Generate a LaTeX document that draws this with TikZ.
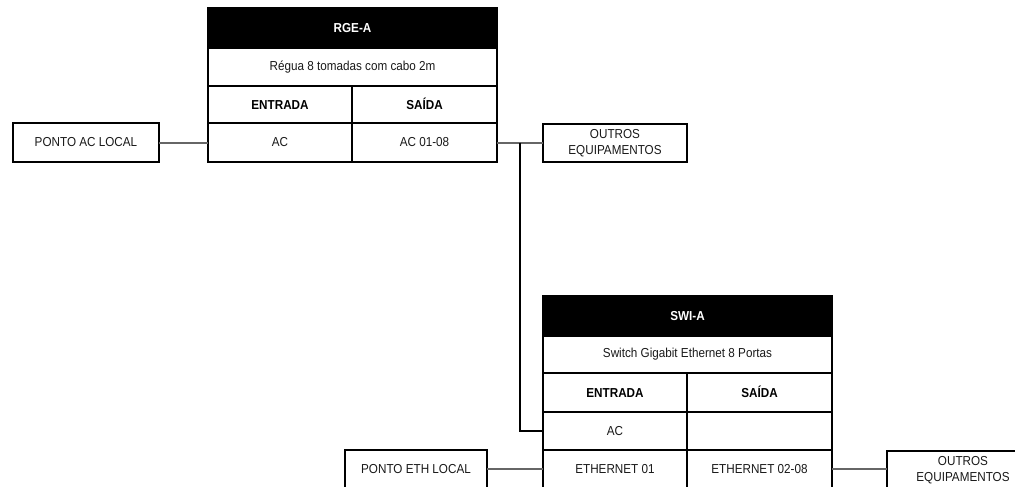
\documentclass[tikz,border=0pt]{standalone}
\usepackage{fontspec}
\setmainfont{Liberation Sans}[FakeStretch=0.9]
\usetikzlibrary{calc}
\tikzset{
  cell/.style={draw=black, line width=1.8pt, anchor=north west, inner sep=0pt, outer sep=0pt,
    align=center, font=\fontsize{13}{14}\selectfont, text=black!90},
  twoline/.style={cell, font=\fontsize{13}{16.5}\selectfont},
  headcell/.style={cell, fill=black, text=white, font=\fontsize{13}{14}\selectfont\bfseries},
  boldcell/.style={cell, font=\fontsize{13}{14}\selectfont\bfseries, text=black,
    text height=9.4pt, text depth=0pt},
  wire/.style={draw=black!60, line width=2pt},
  feed/.style={draw=black, line width=1.8pt},
}
\begin{document}
\begin{tikzpicture}[x=1pt,y=-1pt]
\path[use as bounding box, clip] (0,0) rectangle (1015,487);
% RGE-A
\node[headcell, minimum width=289pt, minimum height=40pt] (rhead) at (208,8) {RGE-A};
\node[cell, minimum width=289pt, minimum height=38pt] (rdesc) at (208,48) {Régua 8 tomadas com cabo 2m};
\node[boldcell, minimum width=144pt, minimum height=37pt] (rinh) at (208,86) {ENTRADA};
\node[boldcell, minimum width=145pt, minimum height=37pt] (routh) at (352,86) {SAÍDA};
\node[cell, minimum width=144pt, minimum height=39pt] (rin) at (208,123) {AC};
\node[cell, minimum width=145pt, minimum height=39pt] (rout) at (352,123) {AC 01-08};
\node[cell, minimum width=146pt, minimum height=39pt] (pac) at (13,123) {PONTO AC LOCAL};
\node[twoline, minimum width=144pt, minimum height=38pt] (o1) at (543,124) {OUTROS\\EQUIPAMENTOS};
% SWI-A
\node[headcell, minimum width=289pt, minimum height=40pt] (shead) at (543,296) {SWI-A};
\node[cell, minimum width=289pt, minimum height=37pt] (sdesc) at (543,336) {Switch Gigabit Ethernet 8 Portas};
\node[boldcell, minimum width=144pt, minimum height=39pt] (sinh) at (543,373) {ENTRADA};
\node[boldcell, minimum width=145pt, minimum height=39pt] (south) at (687,373) {SAÍDA};
\node[cell, minimum width=144pt, minimum height=38pt] (sac) at (543,412) {AC};
\node[cell, minimum width=145pt, minimum height=38pt] (sempty) at (687,412) {};
\node[cell, minimum width=144pt, minimum height=38pt] (seth1) at (543,450) {ETHERNET 01};
\node[cell, minimum width=145pt, minimum height=38pt] (seth2) at (687,450) {ETHERNET 02-08};
\node[cell, minimum width=142pt, minimum height=38pt] (peth) at (345,450) {PONTO ETH LOCAL};
\node[twoline, minimum width=152pt, minimum height=38pt] (o2) at (887,451) {OUTROS\\EQUIPAMENTOS};
% connectors
\draw[wire] (pac.east) -- (rin.west);
\draw[wire] (rout.east) -- (o1.west |- rout.east);
\coordinate (j) at ($(rout.east)!0.5!(o1.west |- rout.east)$);
\draw[feed] (j) |- (sac.west);
\draw[wire] (peth.east) -- (seth1.west);
\draw[wire] (seth2.east) -- (o2.west |- seth2.east);
\end{tikzpicture}
\end{document}
